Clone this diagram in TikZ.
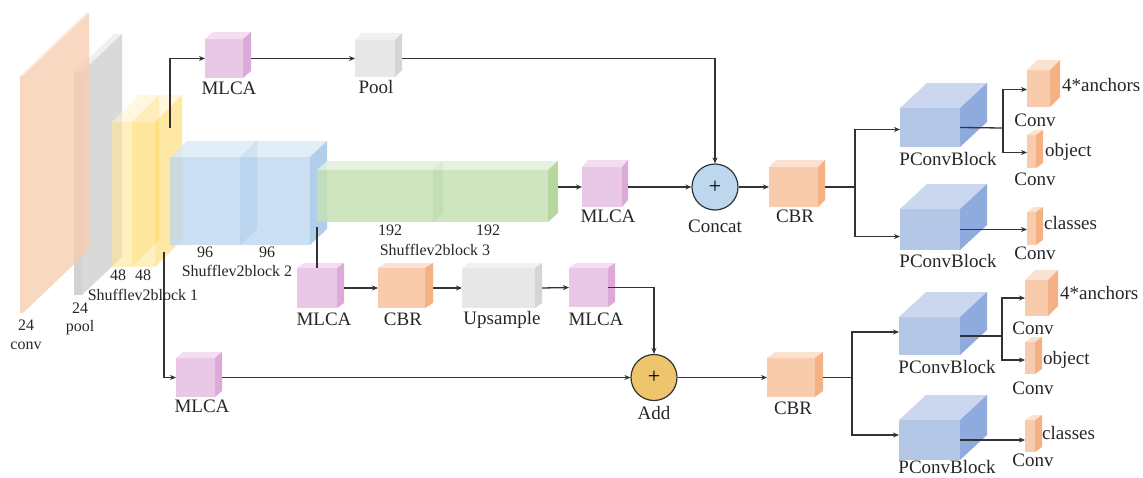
\documentclass[tikz,border=0pt]{standalone}
\usepackage{fontspec}
\setmainfont{Liberation Serif}
\usetikzlibrary{arrows.meta,calc}
\definecolor{pkF}{HTML}{E9C8E6}\definecolor{pkT}{HTML}{F2DEF0}\definecolor{pkS}{HTML}{DCA9D8}
\definecolor{orF}{HTML}{F8CBAD}\definecolor{orT}{HTML}{FBE1CF}\definecolor{orS}{HTML}{F4B183}
\definecolor{gyF}{HTML}{E7E7E7}\definecolor{gyT}{HTML}{F1F1F1}\definecolor{gyS}{HTML}{D5D5D5}
\definecolor{ylF}{HTML}{FFE699}\definecolor{ylT}{HTML}{FFF2CC}\definecolor{ylS}{HTML}{FFD966}
\definecolor{blF}{HTML}{BDD7EE}\definecolor{blT}{HTML}{DAE8F5}\definecolor{blS}{HTML}{9DC3E6}
\definecolor{gnF}{HTML}{C5E0B4}\definecolor{gnT}{HTML}{E2F0D9}\definecolor{gnS}{HTML}{A9D18E}
\definecolor{pcF}{HTML}{B4C7E7}\definecolor{pcT}{HTML}{CBD7EE}\definecolor{pcS}{HTML}{8FAADC}
\definecolor{cvF}{HTML}{F7CBAE}\definecolor{cvT}{HTML}{FCE6D8}\definecolor{cvS}{HTML}{F7CEB2}
\definecolor{plF}{HTML}{D2D2D2}\definecolor{plT}{HTML}{F0F0F0}\definecolor{plS}{HTML}{D9D9D9}
\definecolor{concatfill}{HTML}{BDD7EE}
\definecolor{addfill}{HTML}{EEC46C}
\definecolor{linec}{HTML}{333333}
\definecolor{textc}{HTML}{262626}
% name, x, y (front top-left), w, h, dx, dy, colour prefix, opacity
\newcommand{\cuboid}[9]{%
  \node[inner sep=0pt, outer sep=0pt, minimum width=#4pt, minimum height=#5pt,
        anchor=north west, fill=#8F, fill opacity=#9] (#1) at (#2,#3) {};
  \fill[#8T, fill opacity=#9] (#1.north west) -- ++(#6,-#7)
     -- ([shift={(#6,-#7)}]#1.north east) -- (#1.north east) -- cycle;
  \fill[#8S, fill opacity=#9] (#1.north east) -- ++(#6,-#7)
     -- ([shift={(#6,-#7)}]#1.south east) -- (#1.south east) -- cycle;
}
\begin{document}
\begin{tikzpicture}[x=1pt,y=-1pt,
  lab/.style={inner sep=0pt, text=textc, font=\fontsize{19}{19}\selectfont},
  slab/.style={inner sep=0pt, text=textc, font=\fontsize{16}{16}\selectfont},
  conn/.style={draw=linec, line width=1.3pt},
  arr/.style={conn, -{Stealth[length=6pt,width=5pt]}},
  opcircle/.style={circle, draw=linec, line width=1.2pt, minimum size=46pt, inner sep=0pt,
     font=\fontsize{22}{22}\selectfont}]
\useasboundingbox (0,0) rectangle (1143,477);

% ---- backbone ----
\cuboid{poolslab}{74}{72}{8}{223}{40}{38}{pl}{1}
\cuboid{conv}{20}{76}{3}{237}{66}{63}{cv}{0.8}
\cuboid{ya}{112}{122}{20}{145}{27}{27}{yl}{0.6}
\cuboid{yb}{132}{122}{23}{145}{27}{27}{yl}{0.6}
\cuboid{ba}{170}{157}{70}{88}{17}{16}{bl}{0.8}
\cuboid{bb}{240}{157}{70}{88}{17}{16}{bl}{0.8}
\cuboid{ga}{317}{170}{116}{52}{10}{9}{gn}{0.85}
\cuboid{gb}{433}{170}{115}{52}{10}{9}{gn}{0.85}

% ---- small blocks ----
\cuboid{mlcaA}{205}{39}{38}{39}{8}{7}{pk}{1}
\cuboid{poolA}{355}{40}{40}{37}{7}{7}{gy}{1}
\cuboid{mlcaB}{582}{167}{40}{40}{6}{7}{pk}{1}
\cuboid{cbrA}{769}{167}{49}{40}{7}{7}{or}{1}
\cuboid{mlcaC}{297}{268}{40}{40}{7}{5}{pk}{1}
\cuboid{cbrB}{378}{268}{47}{40}{8}{5}{or}{1}
\cuboid{ups}{462}{268}{73}{40}{7}{5}{gy}{1}
\cuboid{mlcaD}{569}{268}{39}{39}{7}{5}{pk}{1}
\cuboid{mlcaE}{176}{358}{39}{39}{7}{6}{pk}{1}
\cuboid{cbrC}{767}{358}{48}{39}{8}{6}{or}{1}

% ---- heads ----
\cuboid{pcA}{900}{108}{60}{39}{27}{25}{pc}{1}
\cuboid{pcB}{900}{209}{60}{41}{27}{25}{pc}{1}
\cuboid{pcC}{899}{317}{61}{38}{27}{25}{pc}{1}
\cuboid{pcD}{899}{420}{61}{40}{27}{25}{pc}{1}
\cuboid{cvA}{1027}{70}{23}{37}{10}{10}{or}{1}
\cuboid{cvB}{1027}{135}{9}{33}{7}{5}{or}{1}
\cuboid{cvC}{1027}{212}{9}{33}{7}{5}{or}{1}
\cuboid{cvD}{1025}{280}{23}{36}{10}{10}{or}{1}
\cuboid{cvE}{1025}{342}{10}{32}{7}{5}{or}{1}
\cuboid{cvF}{1025}{420}{10}{32}{7}{5}{or}{1}

% ---- operators ----
\node[opcircle, fill=concatfill] (concat) at (715,187) {+};
\node[opcircle, fill=addfill] (add) at (654,377.5) {+};

% ---- coordinates ----
\coordinate (ytop) at (170,128);
\coordinate (ybot) at (164,252);
\coordinate (gout) at (558,187);
\coordinate (bdown) at (317,227);
\coordinate (s1) at (855,187);
\coordinate (s2) at (1003,128);
\coordinate (s3) at (852,377.5);
\coordinate (s4) at (1002,336);

% ---- connectors ----
\draw[arr] (ytop) |- (mlcaA.west);
\draw[arr] ([xshift=8pt]mlcaA.east) -- (poolA.west);
\draw[arr] ([xshift=7pt]poolA.east) -| (concat.north);
\draw[arr] (ybot) |- (mlcaE.west);
\draw[arr] ([xshift=7pt]mlcaE.east) -- (add.west);
\draw[arr] (gout) -- (mlcaB.west);
\draw[arr] ([xshift=6pt]mlcaB.east) -- (concat.west);
\draw[arr] (concat.east) -- (cbrA.west);
\draw[conn] ([xshift=7pt]cbrA.east) -- (s1);
\draw[arr] (s1) |- ([yshift=-2pt]pcA.west);
\draw[arr] (s1) |- ([yshift=-7pt]pcB.west);
\draw[conn] (pcA.east) -- (s2);
\draw[arr] (s2) |- ([yshift=-1pt]cvA.west);
\draw[arr] (s2) |- ([yshift=-1pt]cvB.west);
\draw[arr] (pcB.east) -- (pcB.east -| cvC.west);
\draw[conn] (bdown) -- (mlcaC.north);
\draw[arr] ([xshift=7pt]mlcaC.east) -- (cbrB.west);
\draw[arr] ([xshift=8pt]cbrB.east) -- (ups.west);
\draw[arr] ([xshift=7pt]ups.east) -- (mlcaD.west);
\draw[arr] (mlcaD.east) -| (add.north);
\draw[arr] (add.east) -- (cbrC.west);
\draw[conn] ([xshift=8pt]cbrC.east) -- (s3);
\draw[arr] (s3) |- ([yshift=4pt]pcC.west);
\draw[arr] (s3) |- ([yshift=5pt]pcD.west);
\draw[conn] (pcC.east) -- (s4);
\draw[arr] (s4) |- (cvD.west);
\draw[arr] (s4) |- ([yshift=-2pt]cvE.west);
\draw[arr] (pcD.east) -- (pcD.east -| cvF.west);

% ---- labels ----
\node[slab] (l24a) at (26,325) {24};
\node[slab] (lconv) at (26,346) {conv};
\node[slab] (l24b) at (80,308) {24};
\node[slab] (lpool) at (80,328) {pool};
\node[slab] (l48a) at (118,275) {48};
\node[slab] (l48b) at (143,275) {48};
\node[slab] (lsb1) at (143,295) {Shufflev2block 1};
\node[slab] (l96a) at (205,252) {96};
\node[slab] (l96b) at (267,252) {96};
\node[slab] (lsb2) at (237,271) {Shufflev2block 2};
\node[slab] (l192a) at (390,230) {192};
\node[slab] (l192b) at (488,230) {192};
\node[slab] (lsb3) at (435,250) {Shufflev2block 3};

\node[lab] (lmA) at (229,88) {MLCA};
\node[lab] (lpA) at (376,87) {Pool};
\node[lab] (lmB) at (608,216) {MLCA};
\node[lab] (lcat) at (715,226) {Concat};
\node[lab] (lcA) at (795,216) {CBR};
\node[lab] (lmC) at (324,319) {MLCA};
\node[lab] (lcB) at (403,319) {CBR};
\node[lab] (lup) at (502,320) {Upsample};
\node[lab] (lmD) at (596,319) {MLCA};
\node[lab] (lmE) at (202,406) {MLCA};
\node[lab] (ladd) at (654,413) {Add};
\node[lab] (lcC) at (793,408) {CBR};

\node[lab] (lpcA) at (948,159) {PConvBlock};
\node[lab] (lpcB) at (948,261) {PConvBlock};
\node[lab] (lpcC) at (947,367) {PConvBlock};
\node[lab] (lpcD) at (947,467) {PConvBlock};

\node[lab] (lcvA) at (1035,120) {Conv};
\node[lab] (lcvB) at (1035,179) {Conv};
\node[lab] (lcvC) at (1035,253) {Conv};
\node[lab] (lcvD) at (1033,328) {Conv};
\node[lab] (lcvE) at (1033,388) {Conv};
\node[lab] (lcvF) at (1033,460) {Conv};

\node[lab, anchor=west] (lanA) at (1062,85) {4*anchors};
\node[lab, anchor=west] (lobA) at (1045,152) {object};
\node[lab, anchor=west] (lclA) at (1044,223) {classes};
\node[lab, anchor=west] (lanB) at (1060,293) {4*anchors};
\node[lab, anchor=west] (lobB) at (1043,360) {object};
\node[lab, anchor=west] (lclB) at (1042,433) {classes};
\end{tikzpicture}
\end{document}
